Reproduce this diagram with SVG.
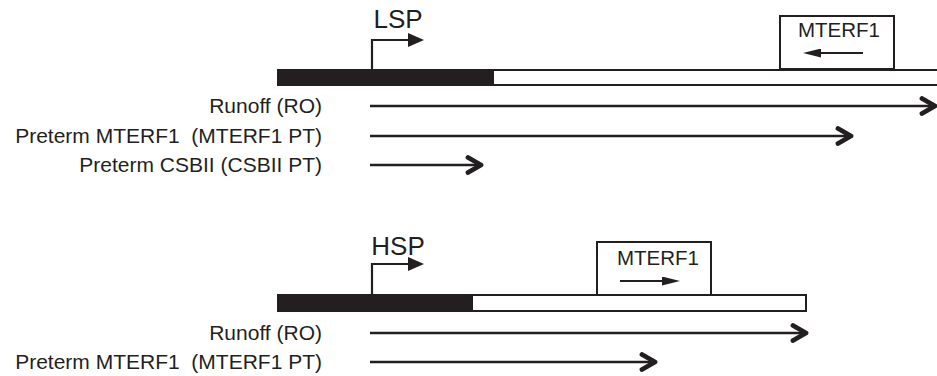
<svg xmlns="http://www.w3.org/2000/svg" width="937" height="376" viewBox="0 0 937 376">
<style>
  .lbl { font-family: "Liberation Sans", Arial, sans-serif; font-size: 21px; fill: #231f20; text-anchor: end; white-space: pre; }
  .prom { font-family: "Liberation Sans", Arial, sans-serif; font-size: 26px; fill: #231f20; text-anchor: middle; }
  .box { fill: #ffffff; stroke: #231f20; stroke-width: 2; }
  .boxtxt { font-family: "Liberation Sans", Arial, sans-serif; font-size: 20.5px; fill: #231f20; text-anchor: middle; }
  .white { fill: #ffffff; stroke: #231f20; stroke-width: 2; }
  .black { fill: #231f20; }
  .tr { fill: none; stroke: #231f20; stroke-width: 2.4; marker-end: url(#chev); }
  .pr { fill: none; stroke: #231f20; stroke-width: 2.2; marker-end: url(#tri); }
  .mt { fill: none; stroke: #231f20; stroke-width: 2; marker-end: url(#tri2); }
</style>
<defs>
  <marker id="chev" markerUnits="userSpaceOnUse" viewBox="0 0 20 20" markerWidth="20" markerHeight="20" refX="16" refY="10" orient="auto">
    <path d="M3,2.5 L16,10 L3,17.5" fill="none" stroke="#231f20" stroke-width="4.8" stroke-linecap="round" stroke-linejoin="round"/>
  </marker>
  <marker id="tri" markerUnits="userSpaceOnUse" viewBox="0 0 16 14" markerWidth="16" markerHeight="14" refX="2" refY="7" orient="auto">
    <path d="M0,0 L16,7 L0,14 Z" fill="#231f20"/>
  </marker>
  <marker id="tri2" markerUnits="userSpaceOnUse" viewBox="0 0 18 9" markerWidth="18" markerHeight="9" refX="2" refY="4.5" orient="auto">
    <path d="M0,0 L18,4.5 L0,9 Z" fill="#231f20"/>
  </marker>
</defs>

<g id="top-strand">
  <rect class="white" x="278" y="70" width="680" height="15"/>
  <rect class="black" x="278" y="69" width="216" height="17"/>
</g>
<g id="top-mterf1">
  <rect class="box" x="780" y="16" width="114" height="53"/>
  <text class="boxtxt" x="839" y="37">MTERF1</text>
</g>
<g id="lsp">
  <text class="prom" x="398" y="28">LSP</text>
</g>
<g id="top-labels">
  <text class="lbl" x="322" y="113">Runoff (RO)</text>
  <text class="lbl" x="322" y="143" xml:space="preserve">Preterm MTERF1  (MTERF1 PT)</text>
  <text class="lbl" x="322" y="172">Preterm CSBII (CSBII PT)</text>
</g>

<g id="bottom-strand">
  <rect class="white" x="278" y="295" width="528" height="16"/>
  <rect class="black" x="278" y="294" width="195" height="18"/>
</g>
<g id="bottom-mterf1">
  <rect class="box" x="597" y="242" width="114" height="53"/>
  <text class="boxtxt" x="658" y="265">MTERF1</text>
</g>
<g id="hsp">
  <text class="prom" x="398" y="255">HSP</text>
</g>
<g id="bottom-labels">
  <text class="lbl" x="322" y="340">Runoff (RO)</text>
  <text class="lbl" x="322" y="369" xml:space="preserve">Preterm MTERF1  (MTERF1 PT)</text>
</g>

<g id="connectors">
  <path class="pr" d="M372,69 V40 H410"/>
  <path class="pr" d="M372,295 V264 H410"/>
  <path class="mt" d="M863,53 H819"/>
  <path class="mt" d="M620,281 H664"/>
  <path class="tr" d="M370,106 H935"/>
  <path class="tr" d="M370,136 H851"/>
  <path class="tr" d="M370,165 H481"/>
  <path class="tr" d="M370,333 H806"/>
  <path class="tr" d="M370,362 H655"/>
</g>
</svg>
